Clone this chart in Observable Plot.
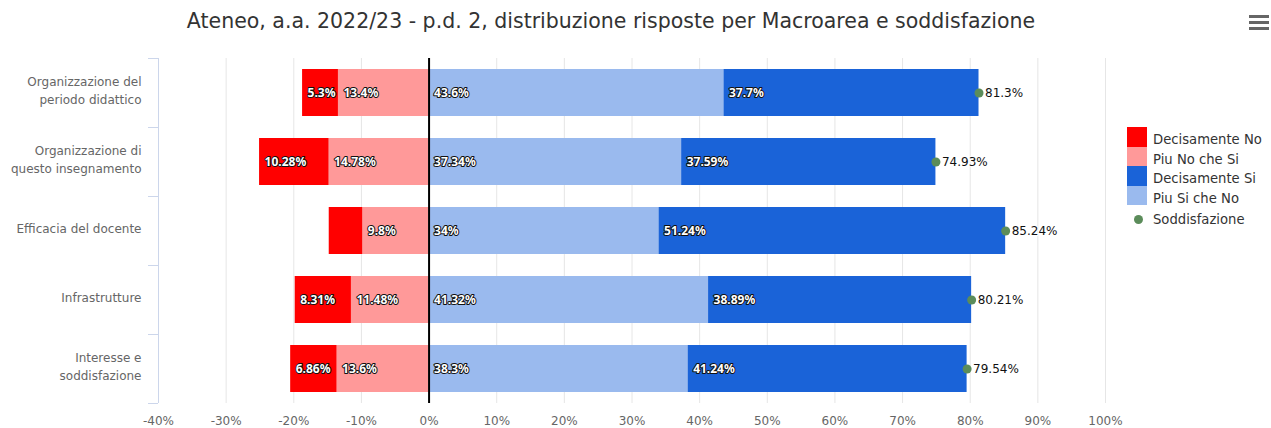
<!DOCTYPE html>
<html>
<head>
<meta charset="utf-8">
<script src="https://cdn.jsdelivr.net/npm/d3@7"></script>
<script src="https://cdn.jsdelivr.net/npm/@observablehq/plot@0.6"></script>
<style>
  html, body { margin: 0; padding: 0; background: #fff; }
  #wrap { position: relative; width: 1271px; height: 428px; font-family: "DejaVu Sans", sans-serif; }
  #title { position: absolute; left: 0; top: 0; width: 1222px; height: 40px; line-height: 43px; text-align: center; font-size: 20.5px; color: #333; white-space: nowrap; }
  #chart { position: absolute; left: 0; top: 40px; }
  .menu { position: absolute; left: 1249px; width: 20px; height: 3px; background: #666; }
  .leg { position: absolute; left: 1127px; font-size: 13.2px; color: #333; white-space: nowrap; }
  .leg .sw { position: absolute; left: 0; top: 0; width: 20px; height: 19.5px; }
  .leg .tx { position: absolute; left: 26px; top: 3px; line-height: 19.5px; }
  .leg .dot { position: absolute; left: 6.5px; top: 5.5px; width: 9px; height: 9px; border-radius: 50%; }
</style>
</head>
<body>
<div id="wrap">
  <div id="title"></div>
  <div class="menu" style="top:15px"></div>
  <div class="menu" style="top:21px"></div>
  <div class="menu" style="top:27px"></div>
  <div id="chart"></div>
  <div id="legend"></div>
</div>
<script>
const titleText = "Ateneo, a.a. 2022/23 - p.d. 2, distribuzione risposte per Macroarea e soddisfazione";
const categories = [
  "Organizzazione del\nperiodo didattico",
  "Organizzazione di\nquesto insegnamento",
  "Efficacia del docente",
  "Infrastrutture",
  "Interesse e\nsoddisfazione"
];
const seriesNames = ["Decisamente No", "Piu No che Si", "Decisamente Si", "Piu Si che No"];
const seriesColors = ["#ff0000", "#ff9999", "#1a63d8", "#9abaee"];
const satisfactionName = "Soddisfazione";
const satisfactionColor = "#5b8c5a";

const decisamenteNo = [5.3, 10.28, 4.96, 8.31, 6.86];
const piuNoCheSi = [13.4, 14.78, 9.8, 11.48, 13.6];
const piuSiCheNo = [43.6, 37.34, 34, 41.32, 38.3];
const decisamenteSi = [37.7, 37.59, 51.24, 38.89, 41.24];
const soddisfazione = [81.3, 74.93, 85.24, 80.21, 79.54];
// labels not displayed in the original (category index, series)
const hiddenLabels = [[2, "Decisamente No"]];

const xTicks = [-40, -30, -20, -10, 0, 10, 20, 30, 40, 50, 60, 70, 80, 90, 100];

document.getElementById("title").textContent = titleText;

// Build stacked segments: negatives stack leftwards from 0, positives rightwards
const segments = [];
categories.forEach((cat, i) => {
  const a = piuNoCheSi[i], b = decisamenteNo[i];
  segments.push({cat, series: "Piu No che Si", value: a, x1: -a, x2: 0, i});
  segments.push({cat, series: "Decisamente No", value: b, x1: -a - b, x2: -a, i});
  const c = piuSiCheNo[i], d = decisamenteSi[i];
  segments.push({cat, series: "Piu Si che No", value: c, x1: 0, x2: c, i});
  segments.push({cat, series: "Decisamente Si", value: d, x1: c, x2: c + d, i});
});
const labelSegs = segments.filter(s => !hiddenLabels.some(([i, n]) => i === s.i && n === s.series));
const sat = categories.map((cat, i) => ({cat, value: soddisfazione[i]}));

const chart = Plot.plot({
  width: 1271,
  height: 388,
  marginTop: 18,
  marginBottom: 25,
  marginLeft: 158,
  marginRight: 166,
  style: {fontFamily: "DejaVu Sans, sans-serif", background: "transparent", overflow: "visible"},
  x: {domain: [-40, 100], ticks: xTicks, tickFormat: d => d + "%", label: null},
  y: {domain: categories, padding: 0, label: null},
  color: {domain: seriesNames, range: seriesColors},
  marks: [
    Plot.gridX(xTicks, {stroke: "#e6e6e6", strokeOpacity: 1}),
    Plot.ruleX([-40], {stroke: "#ccd6eb", strokeWidth: 1}),
    Plot.axisX({ticks: xTicks, tickSize: 0, tickPadding: 13, fontSize: 12, fill: "#666", tickFormat: d => d + "%", label: null}),
    Plot.axisY({tickSize: 0, tickPadding: 17, fontSize: 12, fill: "#666", label: null, lineHeight: 1.5, dy: -3.5}),
    Plot.axisY({tickSize: 10, fill: "none", stroke: "#ccd6eb", dy: -34.5, label: null}),
    Plot.axisY({tickSize: 10, fill: "none", stroke: "#ccd6eb", dy: 34.5, label: null}),
    Plot.barX(segments, {x1: "x1", x2: "x2", y: "cat", fill: "series", insetTop: 11, insetBottom: 11}),
    Plot.ruleX([0], {stroke: "#000", strokeWidth: 2}),
    Plot.text(labelSegs, {
      x: "x1", y: "cat", text: d => d.value + "%", textAnchor: "start", dx: 5,
      fill: "white", stroke: "#111", strokeWidth: 2, paintOrder: "stroke",
      fontWeight: "bold", fontSize: 12, fontFamily: "Noto Sans, sans-serif"
    }),
    Plot.dot(sat, {x: "value", y: "cat", r: 4.5, fill: satisfactionColor}),
    Plot.text(sat, {
      x: "value", y: "cat", text: d => d.value + "%", textAnchor: "start", dx: 6,
      fill: "#111", stroke: "white", strokeWidth: 2, paintOrder: "stroke", fontSize: 12
    })
  ]
});
document.getElementById("chart").appendChild(chart);

// Legend
const legend = document.getElementById("legend");
const legTops = [127, 146.5, 166, 185.5];
seriesNames.forEach((name, k) => {
  const item = document.createElement("div");
  item.className = "leg";
  item.style.top = legTops[k] + "px";
  item.innerHTML = `<div class="sw" style="background:${seriesColors[k]}"></div><div class="tx"></div>`;
  item.querySelector(".tx").textContent = name;
  legend.appendChild(item);
});
const satItem = document.createElement("div");
satItem.className = "leg";
satItem.style.top = "209px";
satItem.innerHTML = `<div class="dot" style="background:${satisfactionColor}"></div><div class="tx"></div>`;
satItem.querySelector(".tx").textContent = satisfactionName;
satItem.querySelector(".tx").style.top = "1px";
legend.appendChild(satItem);
</script>
</body>
</html>
